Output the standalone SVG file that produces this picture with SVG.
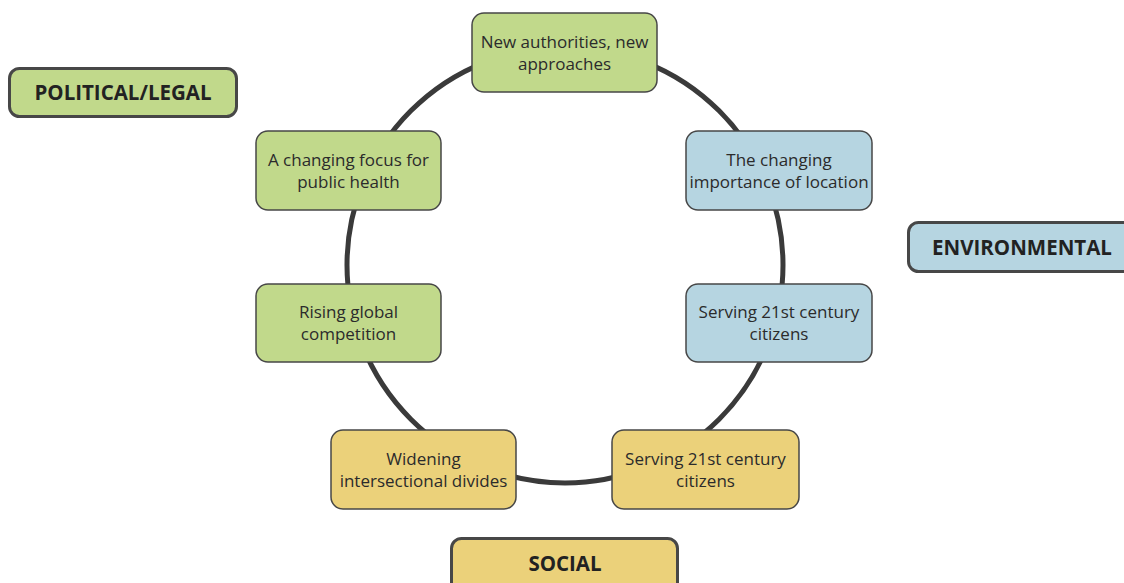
<svg xmlns="http://www.w3.org/2000/svg" width="1124" height="583" viewBox="0 0 1124 583">
<style>
.n{stroke:#474747;stroke-width:1.5}
.c{stroke:#474747;stroke-width:3}
.g{fill:#c1d98b}
.b{fill:#b6d5e1}
.y{fill:#ebd17a}
.t{font-family:"Open Sans","Liberation Sans",sans-serif;font-size:17px;fill:#2b2b2b;text-anchor:middle}
.h{font-family:"Open Sans","Liberation Sans",sans-serif;font-size:20.5px;font-weight:bold;fill:#222;text-anchor:middle}
</style>
<rect width="1124" height="583" fill="#fff"/>
<g id="connectors">
<circle cx="565" cy="265" r="218" fill="none" stroke="#3a3a3a" stroke-width="5"/>
</g>
<g id="political">
<rect class="g c" x="9.5" y="68.5" width="227" height="48" rx="10"/>
<text class="h" x="123" y="100">POLITICAL/LEGAL</text>
</g>
<g id="environmental">
<rect class="b c" x="908.5" y="222.5" width="230" height="49" rx="10"/>
<text class="h" x="1022" y="255">ENVIRONMENTAL</text>
</g>
<g id="social">
<rect class="y c" x="451.5" y="538.5" width="226" height="60" rx="10"/>
<text class="h" x="565" y="571">SOCIAL</text>
</g>
<g id="n1">
<rect class="g n" x="472" y="13" width="185" height="79" rx="12"/>
<text class="t" x="564.5" y="48">New authorities, new</text>
<text class="t" x="564.5" y="70">approaches</text>
</g>
<g id="n2">
<rect class="g n" x="256" y="131" width="185" height="79" rx="12"/>
<text class="t" x="348.5" y="166">A changing focus for</text>
<text class="t" x="348.5" y="188">public health</text>
</g>
<g id="n3">
<rect class="g n" x="256" y="284" width="185" height="78" rx="12"/>
<text class="t" x="348.5" y="318">Rising global</text>
<text class="t" x="348.5" y="340">competition</text>
</g>
<g id="n4">
<rect class="y n" x="331" y="430" width="185" height="79" rx="12"/>
<text class="t" x="423.5" y="465">Widening</text>
<text class="t" x="423.5" y="487">intersectional divides</text>
</g>
<g id="n5">
<rect class="y n" x="612" y="430" width="187" height="79" rx="12"/>
<text class="t" x="705.5" y="465">Serving 21st century</text>
<text class="t" x="705.5" y="487">citizens</text>
</g>
<g id="n6">
<rect class="b n" x="686" y="284" width="186" height="78" rx="12"/>
<text class="t" x="779" y="318">Serving 21st century</text>
<text class="t" x="779" y="340">citizens</text>
</g>
<g id="n7">
<rect class="b n" x="686" y="131" width="186" height="79" rx="12"/>
<text class="t" x="779" y="166">The changing</text>
<text class="t" x="779" y="188">importance of location</text>
</g>
</svg>
